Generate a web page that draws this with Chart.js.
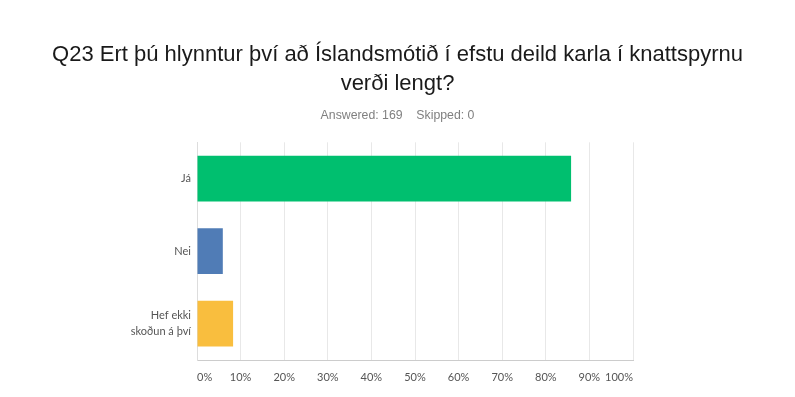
<!DOCTYPE html>
<html>
<head>
<meta charset="utf-8">
<script src="https://cdn.jsdelivr.net/npm/chart.js@4"></script>
<style>
  body { margin: 0; background: #fff; }
  #wrap { width: 795px; height: 397px; }
</style>
</head>
<body>
<div id="wrap"><canvas id="surveyChart"></canvas></div>
<script>
const categories = ['Já', 'Nei', ['Hef ekki', 'skoðun á því']];
const percents = [85.80, 5.92, 8.28];
const barColors = ['#00bf6f', '#507cb6', '#f9be3e'];
const tickValues = [0, 10, 20, 30, 40, 50, 60, 70, 80, 90, 100];

window.addEventListener('DOMContentLoaded', () => {
    load_graph()
})

function load_graph() {
    const data = {
        labels: categories,
        datasets: [{
            data: percents,
            backgroundColor: barColors,
            borderWidth: 0,
            barPercentage: 0.63,
            categoryPercentage: 1
        }]
    };

    const config = {
        type: 'bar',
        data: data,
        options: {
            indexAxis: 'y',
            responsive: true,
            maintainAspectRatio: false,
            animation: false,
            layout: { padding: 0 },
            plugins: {
                legend: { display: false },
                tooltip: { enabled: false },
                title: {
                    display: true,
                    text: ['Q23 Ert þú hlynntur því að Íslandsmótið í efstu deild karla í knattspyrnu', 'verði lengt?'],
                    color: '#1a1a1a',
                    font: { family: '"Liberation Sans", Arial, sans-serif', size: 22, weight: 'normal', lineHeight: 1.32 },
                    padding: { top: 40, bottom: 10 }
                },
                subtitle: {
                    display: true,
                    text: 'Answered: 169\u00a0\u00a0\u00a0\u00a0Skipped: 0',
                    color: '#808080',
                    font: { family: '"Liberation Sans", Arial, sans-serif', size: 12.3, lineHeight: 1.2 },
                    padding: { top: 0, bottom: 19.5 }
                }
            },
            scales: {
                x: {
                    min: 0,
                    max: 100,
                    afterBuildTicks: (scale) => {
                        scale.ticks = tickValues.map(v => ({ value: v }));
                    },
                    afterFit: (scale) => { scale.height = 37; },
                    grid: { color: '#e8e8e8', drawTicks: false },
                    border: { color: '#cccccc' },
                    ticks: {
                        align: 'inner',
                        padding: 11,
                        color: '#555555',
                        font: { family: 'Lato, sans-serif', size: 11 },
                        callback: (v) => v + '%'
                    }
                },
                y: {
                    afterFit: (scale) => { scale.width = 197; },
                    grid: { display: false, drawTicks: false },
                    border: { color: '#dddddd' },
                    ticks: {
                        padding: 6,
                        color: '#555555',
                        font: { family: 'Lato, sans-serif', size: 11, lineHeight: 1.45 }
                    }
                },
                // empty right-hand spacer so the plot stops at 100% while the title stays centred
                spacer: {
                    axis: 'y',
                    position: 'right',
                    display: true,
                    afterFit: (scale) => { scale.width = 162; },
                    grid: { display: false, drawTicks: false },
                    border: { display: false },
                    ticks: { display: false }
                }
            }
        }
    };

    new Chart(document.getElementById('surveyChart'), config);
}
</script>
</body>
</html>
